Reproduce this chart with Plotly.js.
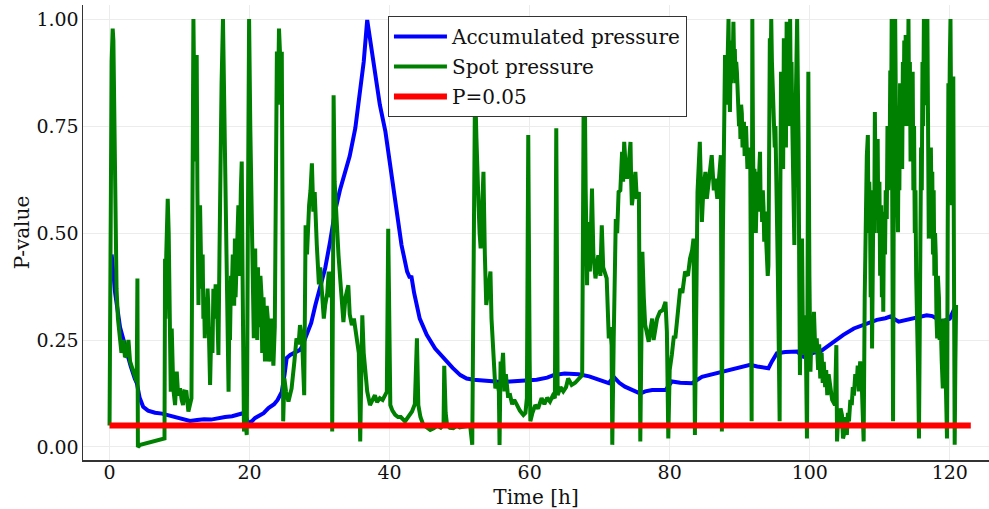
<!DOCTYPE html>
<html>
<head>
<meta charset="utf-8">
<script src="https://cdn.plot.ly/plotly-3.0.1.min.js"></script>
<style>html,body{margin:0;padding:0;background:#fff;}#chart{width:989px;height:509px;}</style>
</head>
<body>
<div id="chart"></div>
<script>
// Accumulated pressure (blue): [time h, p-value]
const accumulatedPressure = [[0.3,0.45],[0.8,0.36],[1.5,0.28],[2.3,0.23],[3.0,0.19],[3.6,0.16],[3.9,0.149],[4.3,0.115],[4.8,0.094],[5.5,0.085],[6.5,0.08],[7.5,0.078],[8.2,0.075],[9.0,0.072],[10.0,0.068],[11.0,0.064],[11.5,0.061],[12.5,0.063],[13.5,0.065],[14.5,0.064],[15.3,0.067],[16.5,0.07],[17.5,0.072],[18.3,0.075],[18.9,0.079],[19.3,0.08],[19.8,0.055],[20.3,0.06],[20.8,0.068],[21.5,0.074],[22.0,0.079],[22.7,0.091],[23.5,0.10],[24.0,0.11],[24.6,0.129],[25.0,0.17],[25.3,0.208],[25.8,0.215],[26.5,0.22],[27.2,0.227],[27.5,0.235],[28.0,0.255],[28.8,0.29],[29.4,0.332],[30.1,0.38],[30.8,0.418],[31.5,0.48],[32.2,0.55],[32.9,0.60],[33.6,0.643],[34.3,0.68],[35.1,0.745],[35.8,0.83],[36.3,0.9],[36.8,0.998],[37.3,0.94],[37.9,0.877],[38.6,0.80],[39.4,0.737],[39.8,0.69],[40.3,0.62],[40.8,0.565],[41.7,0.472],[42.5,0.41],[42.9,0.395],[43.1,0.40],[43.5,0.36],[44.3,0.30],[45.3,0.262],[46.5,0.23],[47.7,0.208],[49.0,0.185],[50.1,0.168],[51.0,0.16],[52.0,0.157],[53.5,0.155],[54.8,0.153],[56.0,0.152],[57.2,0.153],[59.0,0.155],[61.0,0.157],[62.5,0.162],[63.4,0.168],[65.0,0.172],[65.8,0.172],[67.0,0.17],[68.5,0.165],[69.8,0.157],[71.3,0.149],[72.0,0.164],[72.8,0.15],[73.6,0.141],[74.6,0.133],[75.8,0.125],[76.5,0.13],[77.5,0.133],[79.4,0.133],[80.3,0.153],[81.5,0.15],[83.2,0.149],[84.6,0.164],[86.0,0.17],[87.5,0.176],[89.5,0.183],[91.5,0.192],[92.5,0.188],[94.1,0.184],[94.6,0.2],[95.3,0.219],[96.5,0.222],[98.2,0.223],[99.1,0.211],[99.6,0.215],[100.5,0.22],[101.5,0.223],[102.5,0.235],[103.4,0.246],[104.8,0.262],[106.3,0.277],[108.0,0.288],[109.6,0.297],[110.8,0.301],[111.5,0.305],[112.7,0.293],[113.8,0.297],[115.1,0.301],[116.7,0.308],[117.5,0.306],[118.9,0.293],[120.0,0.30],[120.8,0.328]];

// Spot pressure (green): [time h, p-value]
const spotPressure = [[0.0,0.05],[0.05,0.49],[0.2,0.62],[0.3,0.90],[0.45,0.978],[0.55,0.95],[0.65,0.80],[0.75,0.64],[0.85,0.50],[1.0,0.37],[1.2,0.30],[1.5,0.254],[1.7,0.22],[2.0,0.25],[2.2,0.21],[2.45,0.215],[2.7,0.25],[2.93,0.2],[3.1,0.19],[3.4,0.176],[3.7,0.16],[3.88,0.152],[3.98,0.394],[4.05,0.0],[4.4,0.005],[5.5,0.01],[6.5,0.015],[7.7,0.02],[7.85,0.02],[7.93,0.44],[8.0,0.3],[8.1,0.45],[8.31,0.58],[8.45,0.5],[8.55,0.41],[8.74,0.129],[8.88,0.277],[9.1,0.137],[9.36,0.098],[9.6,0.176],[9.8,0.12],[10.07,0.137],[10.3,0.11],[10.5,0.098],[10.7,0.13],[10.98,0.129],[11.26,0.083],[11.5,0.10],[11.7,0.114],[11.98,1.0],[12.1,0.80],[12.2,0.667],[12.3,0.85],[12.45,0.916],[12.55,0.6],[12.7,0.332],[12.8,0.5],[12.93,0.565],[13.05,0.45],[13.2,0.37],[13.3,0.45],[13.4,0.30],[13.5,0.35],[13.6,0.254],[13.75,0.33],[13.85,0.30],[14.0,0.37],[14.1,0.332],[14.2,0.25],[14.36,0.145],[14.5,0.25],[14.6,0.28],[14.7,0.22],[14.83,0.37],[15.0,0.30],[15.15,0.38],[15.3,0.37],[15.45,0.28],[15.55,0.215],[15.7,0.45],[15.8,0.643],[16.0,0.85],[16.2,1.0],[16.35,0.85],[16.5,0.76],[16.6,0.60],[16.74,0.526],[16.85,0.30],[17.0,0.129],[17.1,0.3],[17.2,0.25],[17.35,0.4],[17.45,0.355],[17.6,0.45],[17.7,0.42],[17.8,0.33],[17.9,0.487],[18.0,0.35],[18.1,0.40],[18.25,0.5],[18.4,0.565],[18.5,0.4],[18.6,0.45],[18.75,0.6],[18.88,0.667],[19.0,0.40],[19.2,0.036],[19.4,0.06],[19.6,0.028],[19.75,0.5],[19.93,1.0],[20.1,0.75],[20.3,0.565],[20.45,0.40],[20.6,0.254],[20.8,0.464],[20.9,0.3],[21.0,0.35],[21.1,0.25],[21.2,0.42],[21.3,0.28],[21.4,0.30],[21.55,0.4],[21.7,0.355],[21.8,0.22],[21.9,0.25],[22.0,0.35],[22.1,0.30],[22.2,0.2],[22.3,0.22],[22.45,0.33],[22.6,0.30],[22.75,0.2],[22.9,0.215],[23.05,0.3],[23.2,0.25],[23.4,0.19],[23.6,0.28],[23.9,0.924],[24.05,0.80],[24.2,0.978],[24.4,0.90],[24.6,0.924],[24.7,0.565],[24.8,0.06],[24.97,0.16],[25.2,0.13],[25.55,0.106],[25.8,0.12],[26.0,0.137],[26.4,0.2],[26.7,0.254],[27.0,0.24],[27.2,0.285],[27.5,0.25],[27.8,0.121],[28.0,0.518],[28.2,0.45],[28.5,0.565],[28.7,0.6],[28.9,0.663],[29.1,0.55],[29.3,0.596],[29.45,0.50],[29.6,0.472],[29.9,0.38],[30.1,0.42],[30.3,0.37],[30.6,0.30],[30.8,0.332],[31.1,0.36],[31.3,0.41],[31.6,0.35],[31.75,0.41],[31.8,0.036],[31.95,0.50],[32.0,0.822],[32.15,0.62],[32.3,0.565],[32.5,0.50],[32.7,0.448],[33.0,0.38],[33.2,0.33],[33.4,0.292],[33.7,0.35],[34.1,0.378],[34.3,0.31],[34.6,0.285],[34.9,0.30],[35.3,0.254],[35.6,0.22],[35.8,0.013],[36.0,0.2],[36.1,0.308],[36.3,0.22],[36.5,0.176],[36.8,0.13],[37.2,0.098],[37.5,0.11],[37.9,0.121],[38.2,0.105],[38.6,0.114],[39.0,0.11],[39.3,0.12],[39.6,0.129],[39.8,0.51],[40.0,0.2],[40.1,0.098],[40.4,0.085],[40.8,0.075],[41.2,0.07],[41.6,0.07],[42.2,0.06],[42.6,0.07],[43.2,0.083],[43.6,0.10],[43.9,0.254],[44.1,0.098],[44.4,0.07],[44.8,0.052],[45.3,0.045],[45.8,0.04],[46.3,0.044],[46.8,0.05],[47.3,0.045],[47.7,0.052],[47.8,0.19],[48.0,0.08],[48.2,0.052],[48.6,0.045],[49.1,0.044],[49.6,0.05],[50.0,0.046],[50.5,0.048],[51.0,0.05],[51.5,0.05],[51.8,0.005],[51.98,0.565],[52.2,0.85],[52.4,0.72],[52.55,0.60],[52.7,0.565],[52.85,0.50],[53.0,0.464],[53.2,0.55],[53.4,0.643],[53.6,0.45],[53.8,0.332],[54.1,0.37],[54.4,0.41],[54.55,0.30],[54.7,0.254],[54.9,0.18],[55.1,0.137],[55.4,0.15],[55.6,0.13],[55.7,0.005],[55.85,0.2],[56.0,0.176],[56.2,0.22],[56.4,0.13],[56.6,0.17],[56.9,0.12],[57.2,0.121],[57.5,0.10],[57.8,0.11],[58.2,0.098],[58.6,0.085],[59.1,0.075],[59.4,0.08],[59.6,0.114],[59.8,0.729],[60.0,0.2],[60.1,0.06],[60.4,0.08],[60.8,0.098],[61.2,0.09],[61.7,0.114],[62.1,0.10],[62.5,0.115],[62.9,0.106],[63.3,0.12],[63.6,0.114],[63.8,0.745],[64.0,0.121],[64.4,0.14],[64.8,0.13],[65.2,0.14],[65.5,0.16],[66.0,0.145],[66.5,0.15],[67.0,0.16],[67.5,0.168],[67.7,0.783],[67.8,0.98],[68.0,0.6],[68.2,0.378],[68.3,0.526],[68.6,0.41],[68.9,0.604],[69.1,0.45],[69.4,0.394],[69.6,0.42],[69.8,0.448],[70.1,0.40],[70.3,0.518],[70.5,0.42],[70.8,0.40],[71.0,0.394],[71.3,0.254],[71.5,0.28],[71.7,0.238],[71.8,0.005],[72.0,0.25],[72.1,0.41],[72.3,0.533],[72.5,0.50],[72.7,0.596],[72.95,0.60],[73.2,0.69],[73.35,0.62],[73.5,0.713],[73.7,0.66],[73.9,0.627],[74.1,0.65],[74.4,0.713],[74.5,0.62],[74.6,0.565],[74.85,0.60],[75.1,0.643],[75.3,0.58],[75.6,0.596],[75.8,0.013],[76.0,0.30],[76.1,0.456],[76.3,0.35],[76.5,0.285],[76.7,0.27],[77.0,0.246],[77.2,0.27],[77.5,0.30],[77.7,0.25],[77.9,0.269],[78.2,0.30],[78.6,0.316],[79.0,0.32],[79.4,0.339],[79.6,0.269],[79.8,0.02],[80.0,0.18],[80.3,0.215],[80.6,0.26],[80.8,0.254],[81.2,0.31],[81.5,0.37],[81.8,0.36],[82.2,0.41],[82.6,0.40],[82.9,0.44],[83.2,0.46],[83.4,0.487],[83.6,0.028],[83.8,0.40],[83.97,0.596],[84.3,0.713],[84.5,0.60],[84.6,0.526],[84.8,0.60],[85.1,0.643],[85.3,0.58],[85.5,0.612],[85.8,0.65],[86.0,0.682],[86.3,0.60],[86.5,0.627],[86.8,0.58],[86.97,0.604],[87.1,0.64],[87.3,0.682],[87.45,0.036],[87.6,0.5],[87.7,0.612],[87.8,0.877],[87.9,0.916],[88.0,0.8],[88.1,0.9],[88.2,0.85],[88.3,0.95],[88.4,1.0],[88.5,0.85],[88.6,0.783],[88.7,0.9],[88.8,0.85],[88.9,0.95],[89.0,0.9],[89.1,0.994],[89.2,0.9],[89.3,0.93],[89.4,0.85],[89.5,0.9],[89.6,0.877],[89.7,0.8],[89.8,0.83],[89.9,0.75],[90.0,0.8],[90.1,0.72],[90.2,0.8],[90.3,0.78],[90.4,0.7],[90.5,0.75],[90.6,0.76],[90.7,0.68],[90.8,0.70],[90.9,0.75],[91.0,0.72],[91.1,0.65],[91.2,0.7],[91.3,0.66],[91.4,0.7],[91.5,0.682],[91.7,0.06],[91.8,1.0],[91.9,0.7],[92.0,0.565],[92.1,0.65],[92.2,0.62],[92.3,0.5],[92.4,0.6],[92.5,0.643],[92.6,0.55],[92.7,0.58],[92.8,0.65],[92.9,0.69],[93.0,0.55],[93.1,0.6],[93.2,0.526],[93.3,0.6],[93.4,0.56],[93.5,0.48],[93.6,0.55],[93.7,0.502],[93.8,0.45],[93.9,0.46],[94.0,0.4],[94.1,0.424],[94.2,0.7],[94.3,0.955],[94.4,0.85],[94.5,1.0],[94.6,0.9],[94.7,0.85],[94.8,0.76],[94.9,0.72],[95.0,0.70],[95.1,0.75],[95.2,0.65],[95.3,0.682],[95.45,0.40],[95.6,0.2],[95.7,0.06],[95.8,0.6],[95.9,0.877],[96.0,0.7],[96.1,0.80],[96.2,0.65],[96.3,0.955],[96.4,0.75],[96.5,0.88],[96.6,0.7],[96.7,0.994],[96.8,0.8],[96.95,0.90],[97.05,0.75],[97.2,1.0],[97.3,0.8],[97.4,0.9],[97.5,0.76],[97.6,0.65],[97.7,0.55],[97.8,0.472],[97.9,0.7],[98.0,0.80],[98.1,0.95],[98.2,1.0],[98.3,0.85],[98.4,0.72],[98.5,0.4],[98.6,0.168],[98.75,0.35],[98.9,0.487],[99.0,0.3],[99.1,0.215],[99.25,0.28],[99.4,0.308],[99.6,0.02],[99.8,0.877],[99.95,0.4],[100.1,0.176],[100.3,0.30],[100.45,0.22],[100.6,0.316],[100.8,0.22],[101.0,0.254],[101.2,0.18],[101.35,0.24],[101.5,0.16],[101.7,0.22],[101.85,0.15],[102.0,0.199],[102.2,0.14],[102.35,0.18],[102.5,0.121],[102.7,0.17],[102.9,0.145],[103.2,0.11],[103.6,0.098],[103.8,0.238],[103.9,0.013],[104.05,0.07],[104.2,0.05],[104.4,0.09],[104.6,0.075],[104.75,0.02],[104.9,0.03],[105.1,0.07],[105.3,0.028],[105.45,0.08],[105.6,0.06],[105.8,0.11],[106.0,0.098],[106.15,0.14],[106.3,0.12],[106.5,0.17],[106.7,0.145],[106.85,0.19],[107.0,0.13],[107.2,0.2],[107.4,0.16],[107.55,0.1],[107.7,0.013],[107.85,0.35],[108.0,0.55],[108.15,0.68],[108.3,0.729],[108.4,0.5],[108.5,0.62],[108.6,0.565],[108.7,0.35],[108.8,0.5],[108.9,0.23],[109.0,0.45],[109.1,0.6],[109.2,0.5],[109.3,0.783],[109.4,0.6],[109.5,0.70],[109.6,0.55],[109.7,0.72],[109.8,0.5],[109.95,0.62],[110.05,0.4],[110.2,0.565],[110.3,0.35],[110.4,0.5],[110.5,0.316],[110.6,0.55],[110.75,0.45],[110.85,0.6],[111.0,0.533],[111.1,0.75],[111.2,0.6],[111.3,0.74],[111.4,0.65],[111.5,0.88],[111.6,0.7],[111.7,1.0],[111.8,0.5],[111.9,0.06],[112.0,0.6],[112.1,0.9],[112.2,1.0],[112.3,0.8],[112.4,0.72],[112.5,0.6],[112.6,0.502],[112.7,0.75],[112.8,0.6],[112.9,0.85],[113.0,0.7],[113.1,0.799],[113.2,0.65],[113.3,0.9],[113.4,0.75],[113.5,0.95],[113.6,0.8],[113.7,0.963],[113.8,0.75],[113.9,0.92],[114.0,0.8],[114.1,1.0],[114.2,0.75],[114.3,0.9],[114.4,0.667],[114.5,0.85],[114.6,0.7],[114.7,0.877],[114.8,0.6],[114.9,0.75],[115.0,0.5],[115.1,0.6],[115.2,0.4],[115.35,0.3],[115.5,0.15],[115.6,0.02],[115.7,0.3],[115.8,0.487],[115.9,0.7],[116.0,0.6],[116.1,0.9],[116.2,0.75],[116.3,1.0],[116.4,0.85],[116.5,0.799],[116.6,0.95],[116.7,0.8],[116.8,1.0],[116.9,0.7],[117.0,0.487],[117.1,0.65],[117.2,0.5],[117.3,0.7],[117.4,0.55],[117.5,0.643],[117.6,0.45],[117.7,0.6],[117.8,0.4],[117.9,0.5],[118.0,0.448],[118.1,0.3],[118.2,0.254],[118.3,0.4],[118.45,0.35],[118.55,0.25],[118.7,0.292],[118.85,0.2],[119.0,0.137],[119.1,0.3],[119.2,0.2],[119.3,0.254],[119.4,0.12],[119.5,0.15],[119.6,0.02],[119.7,0.5],[119.8,0.85],[119.9,0.7],[120.0,0.9],[120.1,1.0],[120.2,0.75],[120.3,0.565],[120.4,0.8],[120.5,0.866],[120.6,0.4],[120.7,0.005],[120.8,0.2],[120.9,0.332]];

// Significance threshold
const thresholdTime = [0, 123];
const thresholdValue = [0.05, 0.05];

const xTicks = [0, 20, 40, 60, 80, 100, 120];
const yTicks = [0, 0.25, 0.5, 0.75, 1.0];
const yTickText = ['0.00', '0.25', '0.50', '0.75', '1.00'];
const seriesNames = ['Accumulated pressure', 'Spot pressure', 'P=0.05'];

const FONT = 'DejaVu Serif, serif';

const traces = [
  {x: accumulatedPressure.map(p => p[0]), y: accumulatedPressure.map(p => p[1]), mode: 'lines',
   name: seriesNames[0], legendgroup: 'a', line: {color: '#0000ff', width: 4}},
  {x: spotPressure.map(p => p[0]), y: spotPressure.map(p => p[1]), mode: 'lines',
   name: seriesNames[1], legendgroup: 'b', line: {color: '#008000', width: 4}},
  {x: thresholdTime, y: thresholdValue, mode: 'lines',
   name: seriesNames[2], legendgroup: 'c', line: {color: '#ff0000', width: 6}}
];

const layout = {
  width: 989, height: 509,
  margin: {l: 83, r: 0, t: 5, b: 49},
  paper_bgcolor: '#ffffff', plot_bgcolor: '#ffffff',
  font: {family: FONT, size: 19, color: '#111'},
  showlegend: true,
  legend: {x: 0.3366, y: 0.976, xanchor: 'left', yanchor: 'top',
    bgcolor: '#ffffff', bordercolor: '#333', borderwidth: 1, itemwidth: 53,
    font: {family: FONT, size: 20, color: '#111'}, tracegroupgap: 1},
  xaxis: {range: [-3.79, 125.6], tickvals: xTicks, ticktext: xTicks.map(String),
    showgrid: true, gridcolor: '#ececec', gridwidth: 1, zeroline: false,
    showline: true, linecolor: '#333', linewidth: 1.5, ticks: '', ticklen: 0, ticklabelstandoff: -5,
    tickfont: {family: FONT, size: 19, color: '#111'},
    title: {text: 'Time [h]', font: {family: FONT, size: 20, color: '#111'}, standoff: 14}},
  yaxis: {range: [-0.0304, 1.033], tickvals: yTicks, ticktext: yTickText,
    showgrid: true, gridcolor: '#ececec', gridwidth: 1, zeroline: false,
    showline: true, linecolor: '#333', linewidth: 1.5, ticks: '', ticklen: 0, ticklabelstandoff: -1,
    tickfont: {family: FONT, size: 19, color: '#111'},
    title: {text: 'P-value', font: {family: FONT, size: 20, color: '#111'}, standoff: 1}}
};

Plotly.newPlot('chart', traces, layout, {displayModeBar: false, staticPlot: true});
</script>
</body>
</html>
